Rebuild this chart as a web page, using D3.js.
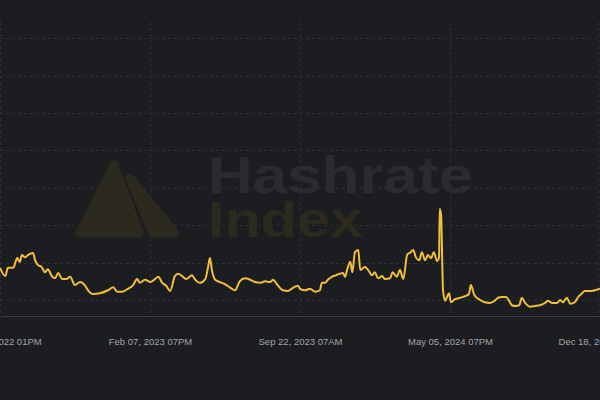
<!DOCTYPE html>
<html>
<head>
<meta charset="utf-8">
<script src="https://cdn.jsdelivr.net/npm/d3@7"></script>
<style>
  html, body { margin: 0; padding: 0; background: #1c1d20; }
  svg { display: block; }
  .grid line { stroke: #2f3034; stroke-dasharray: 3,3; }
  .axis text { fill: #a3a5a9; font-family: "Liberation Sans", Arial, sans-serif; font-size: 9.5px; }
</style>
</head>
<body>
<div id="chart"></div>
<script>
// hashprice, $/PH/day, days since the first tick
let days = [0, 8, 12, 20, 26, 30, 33, 38, 42, 50, 53, 57, 63, 68, 72, 79, 83, 88, 94, 100,
    106, 113, 121, 128, 133, 140, 151, 163, 171, 177, 184, 193, 201, 207, 211, 219, 227, 234, 239, 245,
    251, 257, 264, 269, 275, 281, 290, 294, 302, 310, 314, 317, 320, 325, 332, 340, 347, 355, 362, 370,
    378, 385, 393, 400, 408, 412, 420, 427, 435, 442, 450, 453, 461, 468, 476, 483, 486, 491, 495, 501,
    507, 513, 518, 521, 524, 529, 532, 536, 541, 544, 551, 556, 562, 566, 571, 577, 581, 589, 593, 599,
    604, 609, 615, 619, 624, 628, 633, 637, 642, 646, 651, 655, 660, 663, 664, 666, 669, 672, 675, 678,
    681, 687, 695, 702, 708, 711, 716, 725, 732, 740, 747, 752, 758, 764, 770, 773, 778, 784, 788, 793,
    800, 808, 815, 823, 827, 834, 841, 846, 850, 856, 861, 868, 873, 879, 883, 891, 898, 906];

let hashprice = [93, 82, 93, 93, 106, 101, 110, 107, 110, 113, 103, 97, 94, 87, 91, 81, 79, 86, 78, 78,
    81, 70, 74, 70, 63, 58, 59, 63, 67, 61, 61, 65, 70, 78, 73, 77, 74, 78, 81, 73,
    69, 62, 82, 85, 82, 78, 83, 78, 73, 78, 93, 106, 90, 77, 74, 71, 67, 63, 75, 79,
    77, 74, 73, 75, 74, 77, 69, 63, 62, 66, 69, 65, 63, 65, 61, 63, 73, 73, 77, 81,
    83, 85, 86, 81, 90, 101, 87, 114, 117, 90, 94, 90, 83, 87, 79, 82, 78, 79, 87, 81,
    90, 78, 111, 113, 117, 107, 103, 114, 103, 110, 106, 114, 102, 107, 172, 164, 63, 49, 54, 59,
    47, 51, 53, 55, 58, 70, 57, 50, 47, 46, 49, 53, 54, 54, 47, 43, 42, 43, 53, 46,
    41, 42, 43, 46, 49, 46, 46, 50, 47, 53, 45, 47, 54, 59, 62, 62, 63, 65];

let tickDays = [0, 226.5, 453, 679.5, 906];
let tickLabels = ["Jun 26, 2022 01PM", "Feb 07, 2023 07PM", "Sep 22, 2023 07AM", "May 05, 2024 07PM", "Dec 18, 2024 07AM"];
let gridValues = [50, 100, 150, 200, 250, 300, 350, 400];

let width = 600,
    height = 400,
    plotTop = 22,
    plotBottom = 316;

let data = days.map(function(d, i) { return {day: d, value: hashprice[i]}; });

let x = d3.scaleLinear()
    .domain([0, 906])
    .range([0, width]);

let y = d3.scaleLinear()
    .domain([28.6, 421.7])
    .range([plotBottom, plotTop]);

let svg = d3.select("#chart").append("svg")
    .attr("width", width)
    .attr("height", height);

svg.append("rect")
    .attr("width", width)
    .attr("height", height)
    .attr("fill", "#1c1d20");

// gridlines
svg.append("g")
    .attr("class", "grid")
    .selectAll("line.h")
    .data(gridValues)
    .enter().append("line")
    .attr("x1", 0)
    .attr("x2", width)
    .attr("y1", function(d) { return Math.round(y(d)) + 0.5; })
    .attr("y2", function(d) { return Math.round(y(d)) + 0.5; });

svg.append("g")
    .attr("class", "grid")
    .selectAll("line.v")
    .data(tickDays)
    .enter().append("line")
    .attr("x1", function(d) { return Math.min(Math.round(x(d)) + 0.5, width - 1.5); })
    .attr("x2", function(d) { return Math.min(Math.round(x(d)) + 0.5, width - 1.5); })
    .attr("y1", plotTop)
    .attr("y2", plotBottom);

// watermark
let mark = svg.append("g").attr("class", "watermark")
    .attr("fill", "#2c291f")
    .attr("stroke", "#2c291f")
    .attr("stroke-width", 9)
    .attr("stroke-linejoin", "round");

mark.append("path")
    .attr("d", "M80,233 L114,165 L139,233 Z");

mark.append("path")
    .attr("d", "M130,178 L175,233 L153,233 Z");

mark.append("text")
    .attr("x", 208)
    .attr("y", 193)
    .attr("textLength", 265)
    .attr("lengthAdjust", "spacingAndGlyphs")
    .style("font-family", "'Liberation Sans', Arial, sans-serif")
    .style("font-weight", "bold")
    .style("font-size", "52px")
    .style("fill", "#2a2b2e")
    .style("stroke", "none")
    .text("Hashrate");

mark.append("text")
    .attr("x", 208)
    .attr("y", 237)
    .attr("textLength", 155)
    .attr("lengthAdjust", "spacingAndGlyphs")
    .style("font-family", "'Liberation Sans', Arial, sans-serif")
    .style("font-weight", "bold")
    .style("font-size", "50px")
    .style("fill", "#2c291f")
    .style("stroke", "none")
    .text("Index");

// line
let line = d3.line()
    .x(function(d) { return x(d.day); })
    .y(function(d) { return y(d.value); })
    .curve(d3.curveMonotoneX);

svg.append("path")
    .datum(data)
    .attr("fill", "none")
    .attr("stroke", "#f0c03a")
    .attr("stroke-width", 2)
    .attr("stroke-linejoin", "round")
    .attr("d", line);

// x axis
let xAxis = d3.axisBottom(x)
    .tickValues(tickDays)
    .tickFormat(function(d, i) { return tickLabels[i]; })
    .tickSize(0)
    .tickPadding(22);

let gx = svg.append("g")
    .attr("class", "axis")
    .attr("transform", "translate(0," + plotBottom + ")")
    .call(xAxis);

gx.select(".domain")
    .attr("stroke", "#3b3c40")
    .attr("stroke-width", 1);
</script>
</body>
</html>
